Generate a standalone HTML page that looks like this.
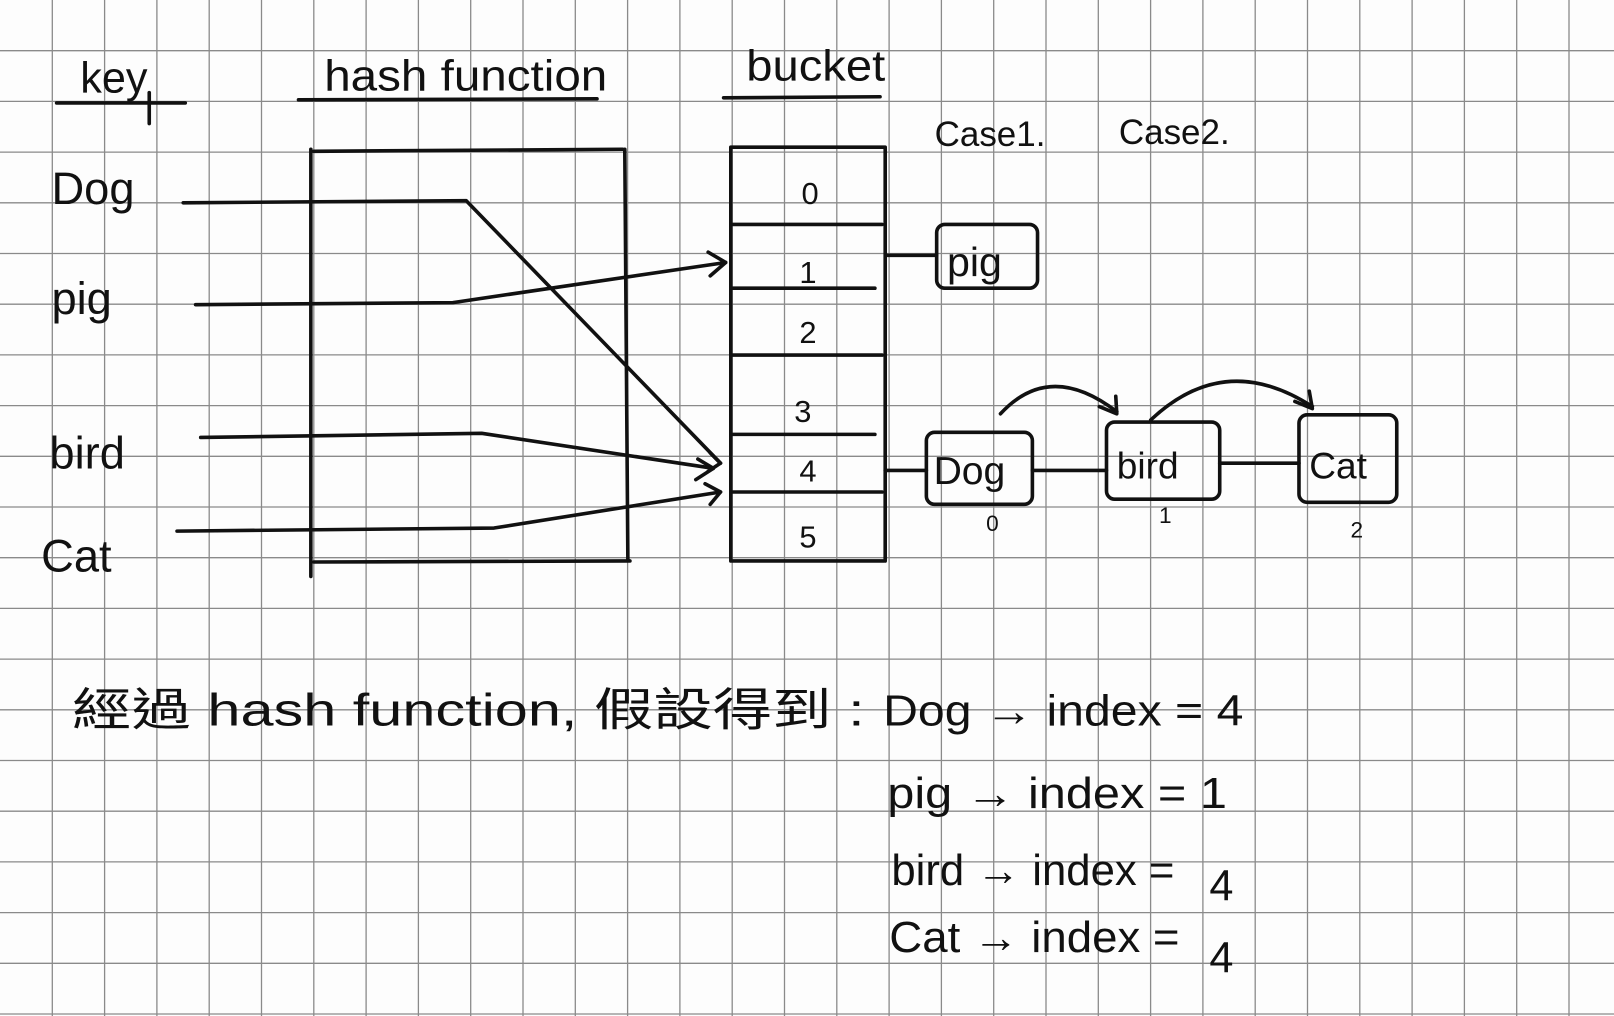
<!DOCTYPE html>
<html><head><meta charset="utf-8"><style>
html,body{margin:0;padding:0;background:#fff;}
svg{display:block}
text{font-family:"Liberation Sans","Noto Sans CJK TC",sans-serif;fill:#111;}
</style></head><body>
<svg width="1614" height="1016" viewBox="0 0 1614 1016" xmlns="http://www.w3.org/2000/svg">
<rect width="1614" height="1016" fill="#fdfdfd"/>
<g stroke="#8a8a8a" stroke-width="1.3">
<line x1="52.3" y1="0" x2="52.3" y2="1016"/><line x1="104.6" y1="0" x2="104.6" y2="1016"/><line x1="156.9" y1="0" x2="156.9" y2="1016"/><line x1="209.2" y1="0" x2="209.2" y2="1016"/><line x1="261.5" y1="0" x2="261.5" y2="1016"/><line x1="313.8" y1="0" x2="313.8" y2="1016"/><line x1="366.1" y1="0" x2="366.1" y2="1016"/><line x1="418.4" y1="0" x2="418.4" y2="1016"/><line x1="470.7" y1="0" x2="470.7" y2="1016"/><line x1="523" y1="0" x2="523" y2="1016"/><line x1="575.3" y1="0" x2="575.3" y2="1016"/><line x1="627.6" y1="0" x2="627.6" y2="1016"/><line x1="679.9" y1="0" x2="679.9" y2="1016"/><line x1="732.2" y1="0" x2="732.2" y2="1016"/><line x1="784.5" y1="0" x2="784.5" y2="1016"/><line x1="836.8" y1="0" x2="836.8" y2="1016"/><line x1="889.1" y1="0" x2="889.1" y2="1016"/><line x1="941.4" y1="0" x2="941.4" y2="1016"/><line x1="993.7" y1="0" x2="993.7" y2="1016"/><line x1="1046" y1="0" x2="1046" y2="1016"/><line x1="1098.3" y1="0" x2="1098.3" y2="1016"/><line x1="1150.6" y1="0" x2="1150.6" y2="1016"/><line x1="1202.9" y1="0" x2="1202.9" y2="1016"/><line x1="1255.2" y1="0" x2="1255.2" y2="1016"/><line x1="1307.5" y1="0" x2="1307.5" y2="1016"/><line x1="1359.8" y1="0" x2="1359.8" y2="1016"/><line x1="1412.1" y1="0" x2="1412.1" y2="1016"/><line x1="1464.4" y1="0" x2="1464.4" y2="1016"/><line x1="1516.7" y1="0" x2="1516.7" y2="1016"/><line x1="1569" y1="0" x2="1569" y2="1016"/>
<line y1="50.7" x1="0" y2="50.7" x2="1614"/><line y1="101.4" x1="0" y2="101.4" x2="1614"/><line y1="152.1" x1="0" y2="152.1" x2="1614"/><line y1="202.8" x1="0" y2="202.8" x2="1614"/><line y1="253.5" x1="0" y2="253.5" x2="1614"/><line y1="304.2" x1="0" y2="304.2" x2="1614"/><line y1="354.9" x1="0" y2="354.9" x2="1614"/><line y1="405.6" x1="0" y2="405.6" x2="1614"/><line y1="456.3" x1="0" y2="456.3" x2="1614"/><line y1="507" x1="0" y2="507" x2="1614"/><line y1="557.7" x1="0" y2="557.7" x2="1614"/><line y1="608.4" x1="0" y2="608.4" x2="1614"/><line y1="659.1" x1="0" y2="659.1" x2="1614"/><line y1="709.8" x1="0" y2="709.8" x2="1614"/><line y1="760.5" x1="0" y2="760.5" x2="1614"/><line y1="811.2" x1="0" y2="811.2" x2="1614"/><line y1="861.9" x1="0" y2="861.9" x2="1614"/><line y1="912.6" x1="0" y2="912.6" x2="1614"/><line y1="963.3" x1="0" y2="963.3" x2="1614"/><line y1="1014" x1="0" y2="1014" x2="1614"/>
</g>
<g transform="scale(1.0293)" stroke="#111" stroke-width="3.5" fill="none" stroke-linecap="round" stroke-linejoin="round">
<line x1="55" y1="100" x2="180" y2="100"/><line x1="145" y1="90" x2="145" y2="120"/>
<line x1="290" y1="97" x2="580" y2="96"/>
<line x1="703" y1="95" x2="855" y2="94"/>
<path d="M305 147 L605 145 M302 145 L302 560 M607 145 L610 545 M305 546 L612 545"/>
<path d="M710 143 L710 545 M860 143 L860 545 M710 143 L860 143"/>
<path d="M712 218 L857 218 M712 280 L850 280 M712 345 L857 345 M712 422 L850 422 M712 478 L857 478 M712 545 L858 545"/>
<path d="M178 197 L453 195 L700 450"/>
<path d="M190 296 L440 294 L705 255"/><path d="M688 245 L705 255 L690 268"/>
<path d="M195 425 L468 421 L693 455"/><path d="M678 446 L693 455 L676 466"/><path d="M690 440 L700 450 L688 458"/>
<path d="M172 516 L480 513 L700 478"/><path d="M685 470 L700 478 L690 490"/>
<line x1="862" y1="248" x2="910" y2="248"/>
<rect x="910" y="218" width="98" height="62" rx="8"/>
<line x1="860" y1="457" x2="900" y2="457"/>
<rect x="900" y="420" width="103" height="70" rx="8"/>
<line x1="1003" y1="457" x2="1075" y2="457"/>
<rect x="1075" y="410" width="110" height="75" rx="8"/>
<line x1="1185" y1="450" x2="1262" y2="450"/>
<rect x="1262" y="403" width="95" height="85" rx="8"/>
<path d="M972 402 Q1020 350 1085 400"/><path d="M1068 395 L1085 402 L1084 385"/>
<path d="M1118 408 Q1190 340 1275 395"/><path d="M1258 390 L1275 397 L1272 380"/>
</g>
<g transform="scale(1.0293)">
<text x="78" y="90" font-size="42">key</text>
<text x="315" y="88" font-size="42" textLength="275" lengthAdjust="spacingAndGlyphs">hash function</text>
<text x="725" y="78" font-size="42" textLength="135" lengthAdjust="spacingAndGlyphs">bucket</text>
<text x="50" y="198" font-size="44">Dog</text>
<text x="50" y="305" font-size="44">pig</text>
<text x="48" y="455" font-size="44">bird</text>
<text x="40" y="555" font-size="44">Cat</text>
<g font-size="30" text-anchor="middle">
<text x="787" y="198">0</text><text x="785" y="275">1</text><text x="785" y="333">2</text>
<text x="780" y="410">3</text><text x="785" y="468">4</text><text x="785" y="532">5</text>
</g>
<text x="908" y="142" font-size="34">Case1.</text>
<text x="1087" y="140" font-size="34">Case2.</text>
<text x="920" y="268" font-size="40">pig</text>
<text x="907" y="470" font-size="38">Dog</text>
<text x="1085" y="465" font-size="36">bird</text>
<text x="1272" y="465" font-size="36">Cat</text>
<text x="958" y="516" font-size="22">0</text>
<text x="1126" y="508" font-size="22">1</text>
<text x="1312" y="522" font-size="22">2</text>
<text x="70" y="705" font-size="44" textLength="770" lengthAdjust="spacingAndGlyphs">經過 hash function, 假設得到 :</text>
<text x="858" y="705" font-size="42" textLength="350" lengthAdjust="spacingAndGlyphs">Dog → index = 4</text>
<text x="862" y="785" font-size="42" textLength="330" lengthAdjust="spacingAndGlyphs">pig → index = 1</text>
<text x="866" y="860" font-size="42" textLength="275" lengthAdjust="spacingAndGlyphs">bird → index =</text><text x="1175" y="875" font-size="42">4</text>
<text x="864" y="925" font-size="42" textLength="282" lengthAdjust="spacingAndGlyphs">Cat → index =</text><text x="1175" y="945" font-size="42">4</text>
</g>
</svg>
</body></html>
